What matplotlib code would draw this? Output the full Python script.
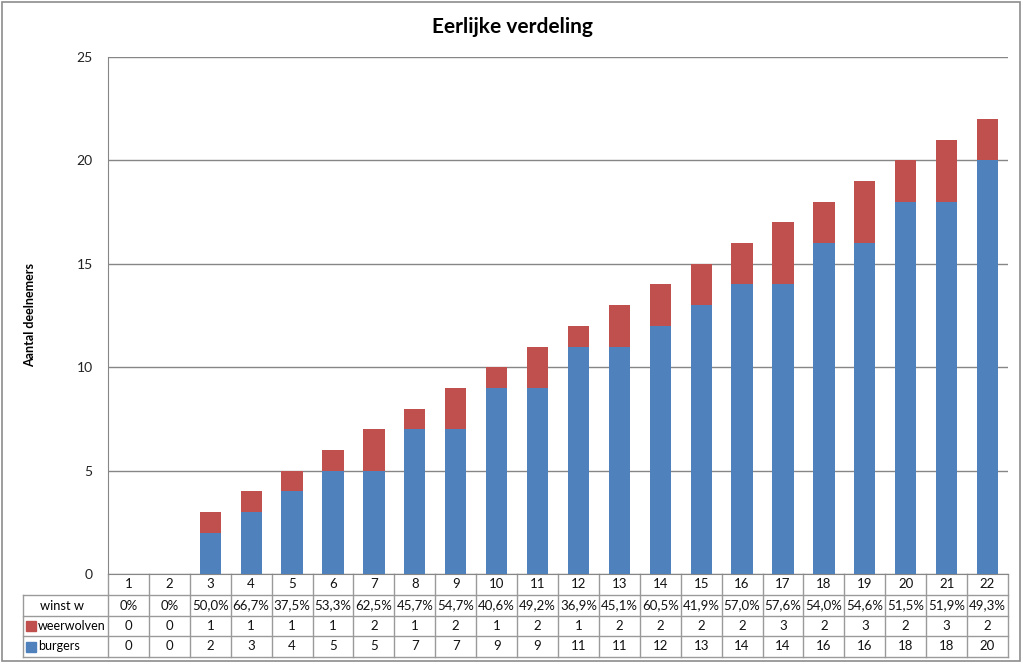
import matplotlib
matplotlib.use("Agg")
import matplotlib.pyplot as plt
from matplotlib.transforms import blended_transform_factory
from matplotlib.patches import Rectangle
from matplotlib.lines import Line2D

categories = [str(i) for i in range(1, 23)]
burgers = [0, 0, 2, 3, 4, 5, 5, 7, 7, 9, 9, 11, 11, 12, 13, 14, 14, 16, 16, 18, 18, 20]
weerwolven = [0, 0, 1, 1, 1, 1, 2, 1, 2, 1, 2, 1, 2, 2, 2, 2, 3, 2, 3, 2, 3, 2]
winst_w = ["0%", "0%", "50,0%", "66,7%", "37,5%", "53,3%", "62,5%", "45,7%", "54,7%", "40,6%",
           "49,2%", "36,9%", "45,1%", "60,5%", "41,9%", "57,0%", "57,6%", "54,0%", "54,6%",
           "51,5%", "51,9%", "49,3%"]
yticks = [0, 5, 10, 15, 20, 25]

BLUE = "#4F81BD"
RED = "#C0504D"
GRID = "#868686"
FONT = "Lato"

W, H = 1023, 669
fig = plt.figure(figsize=(W / 100, H / 100), dpi=100)
plt.rcParams['font.family'] = [FONT, 'DejaVu Sans']

def fx(px):
    return px / W

def fy(py):
    return 1 - py / H

left, right, top, bottom = 108, 1008, 57, 574
ax = fig.add_axes([fx(left), fy(bottom), fx(right - left), (bottom - top) / H])

x = list(range(1, 23))
ax.bar(x, burgers, width=0.52, color=BLUE, zorder=3)
ax.bar(x, weerwolven, bottom=burgers, width=0.52, color=RED, zorder=3)

ax.set_xlim(0.5, 22.5)
ax.set_ylim(0, 25)
ax.set_yticks(yticks)
ax.set_yticklabels([str(t) for t in yticks], fontsize=10, color="#222222")
ax.yaxis.grid(True, color=GRID, linewidth=1, zorder=0)
ax.tick_params(axis='y', length=0, pad=11)
ax.set_xticks([])
for s in ["top", "right"]:
    ax.spines[s].set_visible(False)
ax.spines["left"].set_color(GRID)
ax.spines["bottom"].set_color(GRID)

# title and y label
fig.text(fx(512), fy(27), "Eerlijke verdeling", ha="center", va="center",
         fontsize=15, fontweight="bold")
fig.text(fx(30), fy(315), "Aantal deelnemers", ha="center", va="center",
         rotation=90, fontsize=9, fontweight="bold")

# data table
tr = blended_transform_factory(ax.transData, fig.transFigure)
rows_y = [574, 595, 616, 636, 657]
lc = "#9a9a9a"
# horizontal lines
for yy in rows_y[1:]:
    fig.add_artist(Line2D([fx(23), fx(right)], [fy(yy), fy(yy)], color=lc, lw=1))
# vertical lines
for i in range(23):
    xx = 0.5 + i
    ax.add_artist(Line2D([xx, xx], [fy(rows_y[0]), fy(rows_y[-1])], color=lc, lw=1,
                         transform=tr, clip_on=False))
fig.add_artist(Line2D([fx(23), fx(23)], [fy(rows_y[1]), fy(rows_y[-1])], color=lc, lw=1))

row_values = [categories, winst_w, [str(v) for v in weerwolven], [str(v) for v in burgers]]
for r, vals in enumerate(row_values):
    yc = (rows_y[r] + rows_y[r + 1]) / 2
    for i, v in enumerate(vals):
        ax.text(x[i], fy(yc), v, transform=tr, ha="center", va="center", fontsize=9.5,
                color="#111111", clip_on=False)

# row labels
fig.text(fx(40), fy((rows_y[1] + rows_y[2]) / 2), "winst w", ha="left", va="center", fontsize=9.3)
for r, (lab, col) in enumerate([("weerwolven", RED), ("burgers", BLUE)]):
    yc = (rows_y[r + 2] + rows_y[r + 3]) / 2
    fig.add_artist(Rectangle((fx(26), fy(yc + 5)), fx(10), 10 / H, color=col))
    fig.text(fx(38), fy(yc), lab, ha="left", va="center", fontsize=9.0)

# outer border
fig.add_artist(Rectangle((fx(2), fy(661)), fx(1018), 659 / H, fill=False,
                         edgecolor="#8c8c8c", lw=1.2))

fig.savefig("out.png", dpi=100)
